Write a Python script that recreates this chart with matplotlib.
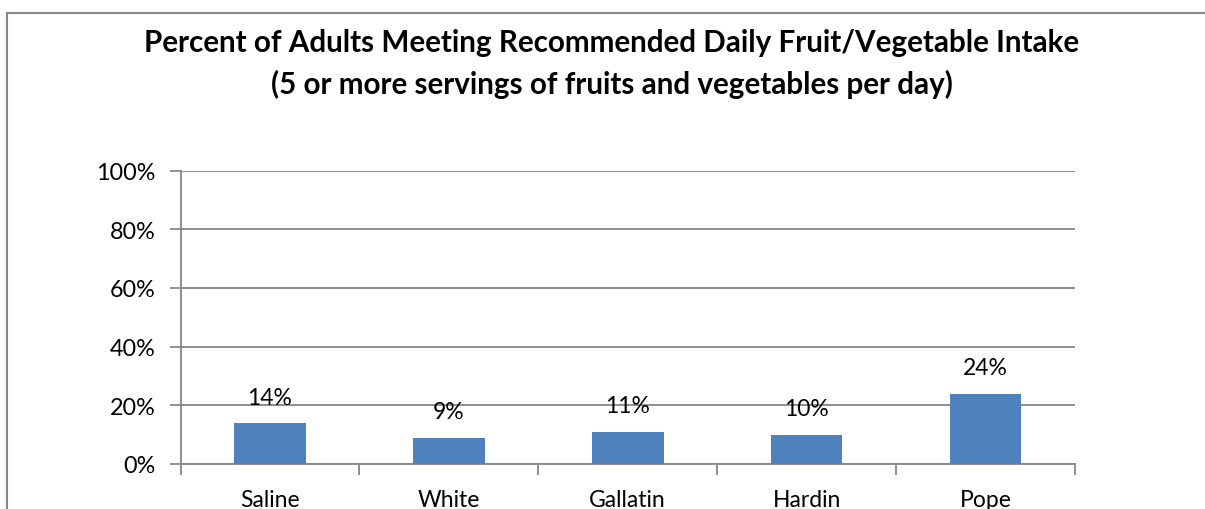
import matplotlib
matplotlib.use("Agg")
import matplotlib.pyplot as plt

categories = ["Saline", "White", "Gallatin", "Hardin", "Pope"]
values = [14, 9, 11, 10, 24]
labels = ["14%", "9%", "11%", "10%", "24%"]
yticks = [0, 20, 40, 60, 80, 100]
ytick_labels = ["0%", "20%", "40%", "60%", "80%", "100%"]
title = ("Percent of Adults Meeting Recommended Daily Fruit/Vegetable Intake\n"
         "(5 or more servings of fruits and vegetables per day)")

plt.rcParams['font.family'] = ['Lato', 'DejaVu Sans']
W, H = 1205, 510
fig = plt.figure(figsize=(W / 100, H / 100), dpi=100)

# outer chart border (left and top visible)
fig.add_artist(plt.Line2D([7.5 / W, 7.5 / W], [0, 1 - 13.5 / H], transform=fig.transFigure,
                          color="#888888", lw=1.5))
fig.add_artist(plt.Line2D([7.5 / W, 1.01], [1 - 13.5 / H, 1 - 13.5 / H], transform=fig.transFigure,
                          color="#888888", lw=1.5, solid_capstyle="butt"))

left, right, top, bottom = 180.5, 1075, 171.5, 465
ax = fig.add_axes([left / W, 1 - bottom / H, (right - left) / W, (bottom - top) / H])
x = list(range(len(categories)))
ax.bar(x, values, width=0.4, color="#4F81BD", zorder=3)
ax.set_xlim(-0.5, len(categories) - 0.5)
ax.set_ylim(0, 100)
ax.set_yticks(yticks)
ax.set_yticklabels(ytick_labels, fontsize=16.8)
ax.yaxis.grid(True, color="#868686", lw=1.3, zorder=0)
ax.set_xticks([i - 0.5 for i in range(len(categories) + 1)])
ax.set_xticklabels([])
ax.set_xticks(x, minor=True)
ax.set_xticklabels(categories, minor=True, fontsize=16.5)
ax.tick_params(axis='x', which='major', length=8, color="#868686", width=1.3)
ax.tick_params(axis='x', which='minor', length=0, pad=18)
ax.tick_params(axis='y', length=8, color="#868686", width=1.3, pad=10)
for s in ["top", "right"]:
    ax.spines[s].set_visible(False)
for s in ["left", "bottom"]:
    ax.spines[s].set_color("#868686")
    ax.spines[s].set_linewidth(1.3)
for xi, v, lab in zip(x, values, labels):
    ax.annotate(lab, (xi, v), xytext=(0, 11), textcoords="offset points",
                ha="center", va="bottom", fontsize=16.5)

fig.text(612 / W, 1 - 64 / H, title, ha="center", va="center", fontsize=21.3,
         fontweight="bold", linespacing=1.5)

fig.savefig("out.png", dpi=100)
